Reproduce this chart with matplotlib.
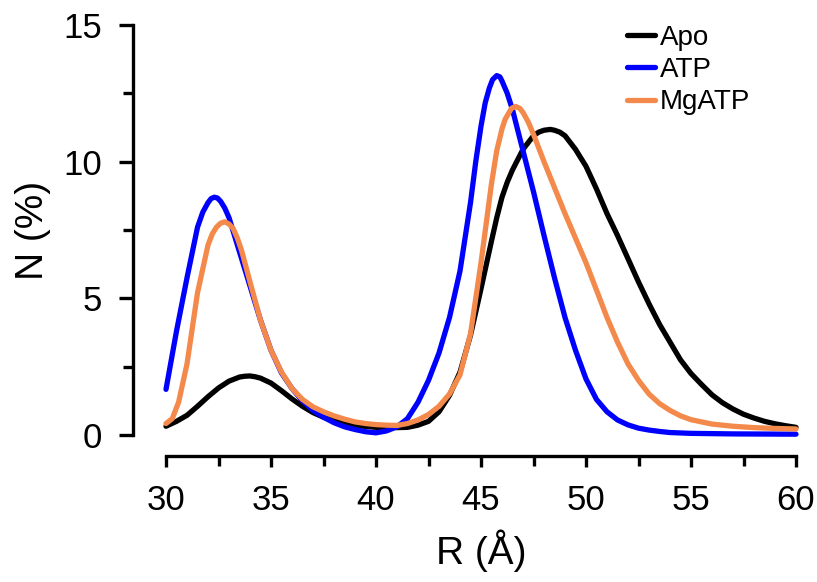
import matplotlib
matplotlib.use('Agg')
import matplotlib.pyplot as plt
from matplotlib.ticker import MultipleLocator

plt.rcParams['font.family'] = ['Liberation Sans', 'DejaVu Sans']

# distance distributions
apo_r = [30.0, 30.5, 31.0, 31.5, 32.0, 32.5, 33.0, 33.5, 33.75, 34.0, 34.25, 34.5, 35.0,
         35.5, 36.0, 36.5, 37.0, 37.5, 38.0, 38.5, 39.0, 40.0, 41.0, 41.5, 42.0, 42.5,
         43.0, 43.5, 44.0, 44.5, 45.0, 45.5, 45.75, 46.0, 46.25, 46.5, 47.0, 47.5, 47.75,
         48.0, 48.3, 48.5, 48.75, 49.0, 49.5, 50.0, 50.5, 51.0, 51.5, 52.0, 52.5, 53.0,
         53.5, 54.0, 54.5, 55.0, 55.5, 56.0, 56.5, 57.0, 57.5, 58.0, 58.5, 59.0, 59.5, 60.0]
apo_n = [0.32, 0.5, 0.72, 1.05, 1.4, 1.72, 1.97, 2.12, 2.15, 2.16, 2.13, 2.08, 1.9,
         1.62, 1.32, 1.05, 0.82, 0.65, 0.52, 0.42, 0.35, 0.28, 0.27, 0.28, 0.36, 0.5,
         0.85, 1.45, 2.3, 3.65, 5.35, 7.1, 7.95, 8.7, 9.25, 9.7, 10.45, 10.95, 11.08,
         11.15, 11.18, 11.15, 11.08, 10.95, 10.45, 9.83, 9.0, 8.1, 7.3, 6.45, 5.6, 4.8,
         4.05, 3.4, 2.75, 2.25, 1.85, 1.47, 1.18, 0.95, 0.76, 0.62, 0.5, 0.41, 0.34, 0.28]

atp_r = [30.0, 30.5, 31.0, 31.5, 31.75, 32.0, 32.15, 32.3, 32.45, 32.6, 32.8, 33.0, 33.5,
         34.0, 34.5, 35.0, 35.5, 36.0, 36.5, 37.0, 37.5, 38.0, 38.5, 39.0, 39.5, 40.0,
         40.5, 41.0, 41.5, 42.0, 42.5, 43.0, 43.5, 44.0, 44.5, 44.75, 45.0, 45.2, 45.4,
         45.55, 45.75, 45.9, 46.0, 46.25, 46.5, 47.0, 47.5, 48.0, 48.5, 49.0, 49.5, 50.0,
         50.5, 51.0, 51.5, 52.0, 52.5, 53.0, 53.5, 54.0, 55.0, 57.0, 60.0]
atp_n = [1.67, 3.8, 5.75, 7.6, 8.15, 8.5, 8.65, 8.7, 8.67, 8.55, 8.3, 7.95, 6.7,
         5.45, 4.2, 3.1, 2.27, 1.7, 1.25, 0.9, 0.65, 0.45, 0.3, 0.2, 0.12, 0.08,
         0.15, 0.3, 0.6, 1.2, 2.0, 3.0, 4.3, 6.0, 8.5, 10.0, 11.3, 12.15, 12.7,
         13.0, 13.15, 13.1, 12.95, 12.5, 11.9, 10.4, 8.9, 7.3, 5.75, 4.3, 3.1, 2.05,
         1.3, 0.85, 0.55, 0.37, 0.25, 0.18, 0.13, 0.09, 0.06, 0.04, 0.03]

mgatp_r = [30.0, 30.3, 30.6, 31.0, 31.5, 32.0, 32.2, 32.4, 32.6, 32.8, 33.0, 33.2, 33.4,
           33.6, 34.0, 34.5, 35.0, 35.5, 36.0, 36.5, 37.0, 37.5, 38.0, 38.5, 39.0, 39.5,
           40.0, 40.5, 41.0, 41.5, 42.0, 42.5, 43.0, 43.5, 44.0, 44.5, 45.0, 45.5, 45.75,
           46.0, 46.15, 46.3, 46.45, 46.65, 46.85, 47.0, 47.25, 47.5, 48.0, 48.5, 49.0, 49.5,
           50.0, 50.5, 51.0, 51.5, 52.0, 52.5, 53.0, 53.5, 54.0, 54.5, 55.0, 56.0, 57.0,
           58.0, 59.0, 60.0]
mgatp_n = [0.42, 0.6, 1.2, 2.6, 5.2, 6.95, 7.35, 7.6, 7.75, 7.8, 7.72, 7.55, 7.2,
           6.75, 5.6, 4.2, 3.1, 2.3, 1.7, 1.3, 1.03, 0.85, 0.7, 0.58, 0.48, 0.42,
           0.38, 0.36, 0.35, 0.42, 0.55, 0.75, 1.05, 1.5, 2.2, 3.7, 6.3, 9.2, 10.4,
           11.2, 11.55, 11.75, 11.95, 12.02, 11.95, 11.8, 11.45, 11.0, 10.0, 9.05, 8.1, 7.2,
           6.3, 5.3, 4.3, 3.4, 2.6, 2.0, 1.5, 1.15, 0.9, 0.7, 0.56, 0.4, 0.32,
           0.27, 0.24, 0.22]

labels = ['Apo', 'ATP', 'MgATP']
colors = ['black', '#0000FF', '#F4894C']

fig = plt.figure(figsize=(8.17, 5.82), dpi=100)
ax = fig.add_axes([166 / 817, 1 - 435 / 582, 630 / 817, 410 / 582])

for r, n, lab, c in zip([apo_r, atp_r, mgatp_r], [apo_n, atp_n, mgatp_n], labels, colors):
    ax.plot(r, n, color=c, linewidth=3.8, label=lab, clip_on=False,
            solid_capstyle='round', solid_joinstyle='round')

ax.set_xlim(30, 60)
ax.set_ylim(0, 15)

ax.spines['top'].set_visible(False)
ax.spines['right'].set_visible(False)
ax.spines['left'].set_position(('outward', 24))
ax.spines['bottom'].set_position(('outward', 15))
ax.spines['left'].set_linewidth(2.4)
ax.spines['bottom'].set_linewidth(2.4)

ax.xaxis.set_major_locator(MultipleLocator(5))
ax.xaxis.set_minor_locator(MultipleLocator(2.5))
ax.yaxis.set_major_locator(MultipleLocator(5))
ax.yaxis.set_minor_locator(MultipleLocator(2.5))

ax.xaxis.set_tick_params(which='major', length=8, width=2.4, direction='out', labelsize=25, pad=12)
ax.xaxis.set_tick_params(which='minor', length=7, width=2.4, direction='out')
ax.yaxis.set_tick_params(which='major', length=10, width=2.4, direction='out', labelsize=25, pad=12)
ax.yaxis.set_tick_params(which='minor', length=7, width=2.4, direction='out')

ax.set_xlabel('R (Å)', fontsize=28, labelpad=9)
ax.set_ylabel('N (%)', fontsize=28, labelpad=9)

ax.legend(loc='upper left', bbox_to_anchor=(627 / 817, 1 - 25 / 582), bbox_transform=fig.transFigure,
          frameon=False, fontsize=20, handlelength=1.0, handletextpad=0.18, labelspacing=0.22,
          borderpad=0, borderaxespad=0)

plt.savefig('out.png', dpi=100)
